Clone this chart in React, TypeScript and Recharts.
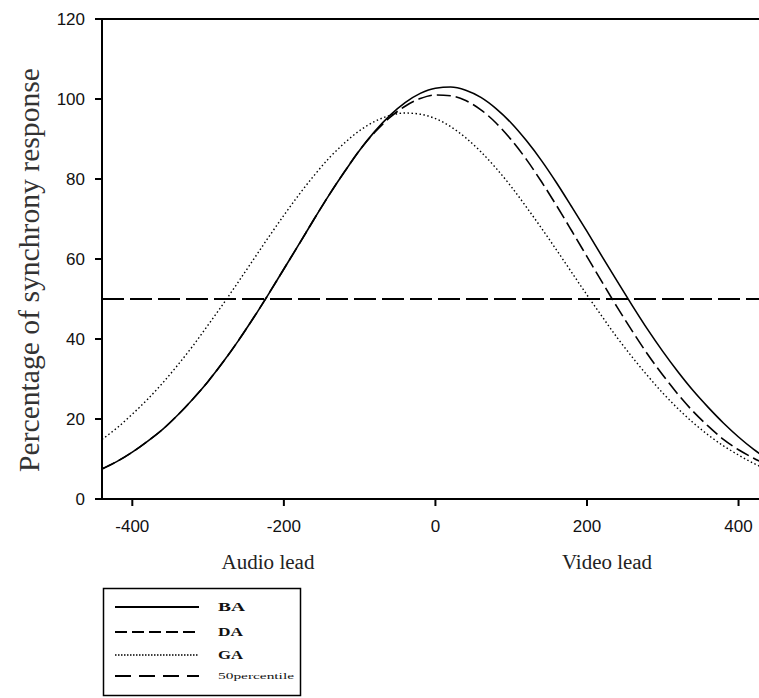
import { LineChart, Line, XAxis, YAxis, ReferenceLine } from "recharts"

// lead time (ms), negative = audio lead
const leads = [
  -440, -420, -400, -380, -360, -340, -320, -300, -280, -260, -240, -220, -200, -180, -160,
  -140, -120, -100, -80, -60, -40, -20, 0, 20, 40, 60, 80, 100, 120, 140, 160, 180, 200,
  220, 240, 260, 280, 300, 320, 340, 360, 380, 400, 420, 440,
]

const baValues = [
  7.5, 9.4, 11.7, 14.4, 17.4, 21.0, 25.0, 29.4, 34.3, 39.6, 45.3, 51.3, 57.5, 63.7, 70.0,
  76.1, 81.8, 87.2, 91.9, 95.9, 99.1, 101.4, 102.7, 103.0, 102.2, 100.4, 97.6, 94.0, 89.6,
  84.6, 79.0, 73.0, 66.9, 60.6, 54.4, 48.3, 42.4, 36.9, 31.8, 27.1, 22.9, 19.0, 15.5, 12.4, 9.8,
]

const daValues = [
  7.5, 9.4, 11.7, 14.4, 17.4, 21.0, 25.0, 29.4, 34.3, 39.6, 45.3, 51.3, 57.5, 63.7, 70.0,
  76.1, 81.8, 87.2, 91.7, 95.4, 98.2, 100.1, 101.0, 100.8, 99.6, 97.3, 94.0, 89.8, 84.9,
  79.3, 73.3, 67.0, 60.6, 54.2, 47.9, 41.9, 36.2, 31.0, 26.2, 21.9, 18.2, 14.9, 12.3, 10.2, 8.3,
]

const gaValues = [
  14.9, 17.8, 21.2, 24.9, 29.0, 33.5, 38.3, 43.5, 48.8, 54.3, 59.9, 65.5, 70.9, 76.1, 80.9,
  85.3, 89.0, 92.1, 94.4, 95.9, 96.5, 96.2, 95.1, 93.1, 90.3, 86.8, 82.7, 78.1, 73.0, 67.7,
  62.2, 56.6, 51.0, 45.6, 40.3, 35.4, 30.8, 26.5, 22.6, 19.1, 16.0, 13.3, 11.0, 8.9, 7.2,
]

const xTicks = [-400, -200, 0, 200, 400]
const yTicks = [0, 20, 40, 60, 80, 100, 120]
const threshold = 50

const data = leads.map((lead, i) => ({
  lead,
  BA: baValues[i],
  DA: daValues[i],
  GA: gaValues[i],
}))

const tickStyle = { fontSize: 17, fontFamily: "Liberation Sans, Arial, sans-serif", fill: "#111" }
const serif = "Liberation Serif, Times New Roman, serif"

export default function App() {
  return (
    <div style={{ position: "absolute", left: 0, top: 0, width: 759, height: 698, background: "#fff" }}>
      <LineChart width={759} height={698} data={data} margin={{ top: 19, right: 0, bottom: 159, left: 0 }}>
        <XAxis
          dataKey="lead"
          type="number"
          domain={[-440, 427]}
          allowDataOverflow
          ticks={xTicks}
          height={40}
          tickSize={7}
          tickMargin={14}
          tick={tickStyle}
          axisLine={{ stroke: "#000", strokeWidth: 2 }}
          tickLine={{ stroke: "#000", strokeWidth: 2 }}
        />
        <YAxis
          type="number"
          domain={[0, 120]}
          ticks={yTicks}
          width={102}
          tickSize={7}
          tickMargin={10}
          tick={tickStyle}
          axisLine={{ stroke: "#000", strokeWidth: 2 }}
          tickLine={{ stroke: "#000", strokeWidth: 2 }}
        />
        {/* frame top + 50th percentile line */}
        <ReferenceLine y={120} stroke="#000" strokeWidth={2} />
        <ReferenceLine y={threshold} stroke="#000" strokeWidth={2} strokeDasharray="22 6" />

        <Line type="monotone" dataKey="BA" stroke="#000" strokeWidth={1.6} dot={false} isAnimationActive={false} />
        <Line type="monotone" dataKey="DA" stroke="#000" strokeWidth={1.6} strokeDasharray="14 5" dot={false} isAnimationActive={false} />
        <Line type="monotone" dataKey="GA" stroke="#000" strokeWidth={1.4} strokeDasharray="1.5 2.5" dot={false} isAnimationActive={false} />
      </LineChart>

      {/* axis titles and legend box */}
      <svg width={759} height={698} style={{ position: "absolute", left: 0, top: 0, pointerEvents: "none" }}>
        <text
          transform="translate(39, 270) rotate(-90)"
          textAnchor="middle"
          fontFamily={serif}
          fontSize={29}
          fill="#333"
          textLength={404}
          lengthAdjust="spacingAndGlyphs"
        >
          Percentage of synchrony response
        </text>
        <text x={268} y={569} textAnchor="middle" fontFamily={serif} fontSize={20} fill="#222" textLength={93} lengthAdjust="spacingAndGlyphs">
          Audio lead
        </text>
        <text x={607} y={569} textAnchor="middle" fontFamily={serif} fontSize={20} fill="#222" textLength={90} lengthAdjust="spacingAndGlyphs">
          Video lead
        </text>

        <rect x={103.5} y={588.5} width={197} height={107} fill="none" stroke="#000" strokeWidth={1.5} />
        <line x1={115} x2={199} y1={607} y2={607} stroke="#000" strokeWidth={2} />
        <line x1={115} x2={199} y1={632} y2={632} stroke="#000" strokeWidth={2} strokeDasharray="12 5" />
        <line x1={115} x2={199} y1={655} y2={655} stroke="#000" strokeWidth={1.3} strokeDasharray="1.5 1.5" />
        <line x1={115} x2={199} y1={676} y2={676} stroke="#000" strokeWidth={2} strokeDasharray="16 8" />
        <g fontFamily={serif} fontWeight="bold" fill="#111">
          <text x={218} y={611} fontSize={12} textLength={27} lengthAdjust="spacingAndGlyphs">BA</text>
          <text x={218} y={636} fontSize={12} textLength={25} lengthAdjust="spacingAndGlyphs">DA</text>
          <text x={218} y={659} fontSize={12} textLength={25} lengthAdjust="spacingAndGlyphs">GA</text>
          <text x={218} y={679} fontSize={9} fontWeight="normal" textLength={76} lengthAdjust="spacingAndGlyphs">50percentile</text>
        </g>
      </svg>
    </div>
  )
}
